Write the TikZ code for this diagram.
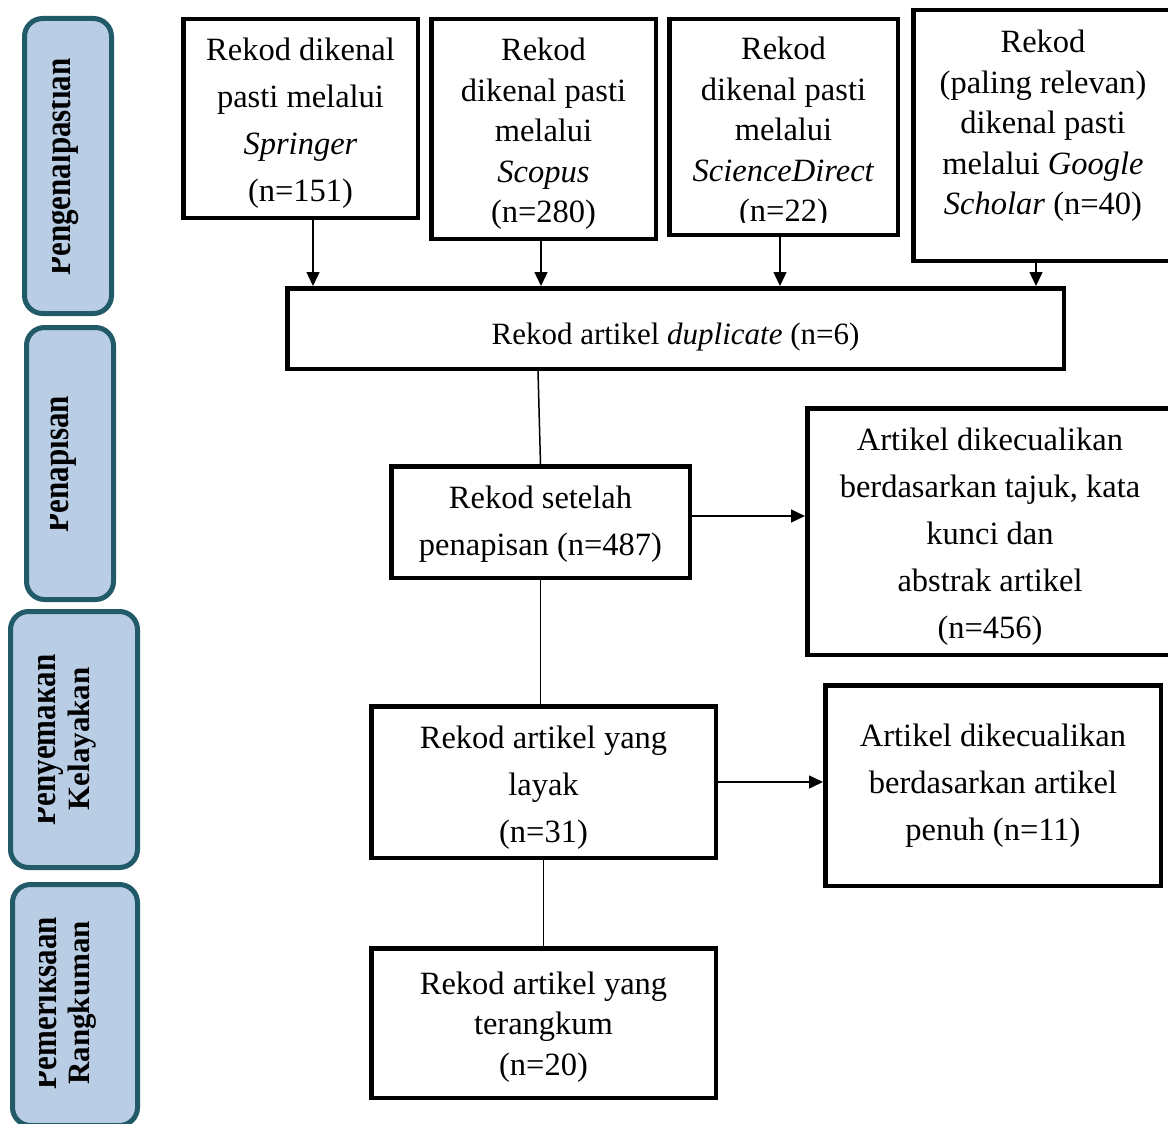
\documentclass[tikz,border=0pt]{standalone}
\usepackage{fontspec}
\setmainfont{Liberation Serif}
\usetikzlibrary{arrows.meta,calc}
\definecolor{pfill}{RGB}{185,205,229}
\definecolor{pdraw}{RGB}{33,90,104}
\newcommand{\stretchtxt}[1]{\scalebox{1}[1.2]{#1}}
\begin{document}
\begin{tikzpicture}[x=1pt,y=-1pt,
  box/.style={draw=black, line width=4.5pt, inner sep=0pt},
  txt/.style={align=center, inner sep=0pt, font=\fontsize{32.5}{47}\selectfont},
  tight/.style={font=\fontsize{32.5}{40.5}\selectfont},
  arr/.style={line width=1.5pt, -{Triangle[length=14pt,width=13pt]}},
  ln/.style={line width=1.5pt},
  panel/.style={draw=pdraw, fill=pfill, line width=5pt, rounded corners=18pt, inner sep=0pt},
  ptext/.style={rotate=90, font=\fontsize{31}{33}\selectfont\bfseries, anchor=base, inner sep=0pt}
]
\useasboundingbox (0,0) rectangle (1168,1124);

% ---- left stage panels ----
\node[panel, minimum width=87, minimum height=295] (p1) at (68,166) {};
\begin{scope}
  \clip (52,20) rectangle (112,312);
  \node[ptext] (t1) at (70,167) {\stretchtxt{Pengenalpastian}};
\end{scope}

\node[panel, minimum width=87, minimum height=272] (p2) at (70,463.5) {};
\begin{scope}
  \clip (50.5,328) rectangle (114,600);
  \node[ptext] (t2) at (68,464) {\stretchtxt{Penapisan}};
\end{scope}

\node[panel, minimum width=127, minimum height=256] (p3) at (74,739.5) {};
\begin{scope}
  \clip (38.5,612) rectangle (138,868);
  \node[ptext] (t3a) at (55,740) {\stretchtxt{Penyemakan}};
  \node[ptext] (t3b) at (89,739) {Kelayakan};
\end{scope}

\node[panel, minimum width=125, minimum height=241] (p4) at (75,1005) {};
\begin{scope}
  \clip (39.5,885) rectangle (138,1124);
  \node[ptext] (t4a) at (56,1003) {\stretchtxt{Pemeriksaan}};
  \node[ptext] (t4b) at (89,1003) {Rangkuman};
\end{scope}

% ---- identification boxes ----
\node[box, minimum width=234.5, minimum height=198.5] (spr) at (300.5,118.5) {};
\node[txt] (sprt) at ([yshift=-5pt]spr.center) {Rekod dikenal\\pasti melalui\\\textit{Springer}\\(n=151)};

\node[box, minimum width=224.5, minimum height=219.5] (sco) at (543.5,129) {};
\node[txt, tight] (scot) at ([yshift=-5pt]sco.center) {Rekod\\dikenal pasti\\melalui\\\textit{Scopus}\\(n=280)};

\node[box, minimum width=228.5, minimum height=215.5] (sd) at (783.5,127) {};
\begin{scope}
  \clip (667,17) rectangle (900,222);
  \node[txt, tight] (sdt) at (783.5,133) {Rekod\\dikenal pasti\\melalui\\\textit{ScienceDirect}\\(n=22)};
\end{scope}

\node[box, minimum width=259.5, minimum height=250.5] (gs) at (1043,135.5) {};
\node[txt, tight] (gst) at (1043,126) {Rekod\\(paling relevan)\\dikenal pasti\\melalui \textit{Google}\\\textit{Scholar} (n=40)};

% ---- duplicate ----
\node[box, minimum width=776.5, minimum height=80.5] (dup) at (675.5,328.5) {};
\node[txt, font=\fontsize{31}{40}\selectfont] (dupt) at ([yshift=-9pt]dup.center) {Rekod artikel \textit{duplicate} (n=6)};

% ---- screening ----
\node[box, minimum width=298.5, minimum height=111.5] (set) at (540.5,522) {};
\node[txt] (sett) at ([yshift=-2pt]set.center) {Rekod setelah\\penapisan (n=487)};

\node[box, minimum width=365.5, minimum height=246.5] (ex1) at (990,531.5) {};
\node[txt] (ex1t) at ([yshift=-5pt]ex1.center) {Artikel dikecualikan\\berdasarkan tajuk, kata\\kunci dan\\abstrak artikel\\(n=456)};

% ---- eligibility ----
\node[box, minimum width=344.5, minimum height=151.5] (lay) at (543.5,782) {};
\node[txt] (layt) at ([yshift=-6pt]lay.center) {Rekod artikel yang\\layak\\(n=31)};

\node[box, minimum width=335.5, minimum height=200.5] (ex2) at (993,785.5) {};
\node[txt] (ex2t) at (ex2.center) {Artikel dikecualikan\\berdasarkan artikel\\penuh (n=11)};

% ---- included ----
\node[box, minimum width=344.5, minimum height=149.5] (ter) at (543.5,1023) {};
\node[txt, tight] (tert) at ([yshift=-4pt]ter.center) {Rekod artikel yang\\terangkum\\(n=20)};

% ---- connectors ----
\draw[arr] ([xshift=12.5pt]spr.south) -- ([xshift=12.5pt]spr.south |- dup.north);
\draw[arr] ([xshift=-2.5pt]sco.south) -- ([xshift=-2.5pt]sco.south |- dup.north);
\draw[arr] ([xshift=-3.5pt]sd.south) -- ([xshift=-3.5pt]sd.south |- dup.north);
\draw[arr] ([xshift=-7pt]gs.south) -- ([xshift=-7pt]gs.south |- dup.north);
\draw[ln] ([xshift=-137.5pt]dup.south) -- (set.north);
\draw[arr] ([yshift=6pt]set.east) -- ([yshift=6pt]set.east -| ex1.west);
\draw[ln] (set.south) -- (set.south |- lay.north);
\draw[arr] (lay.east) -- (lay.east -| ex2.west);
\draw[ln] (lay.south) -- (ter.north);
\end{tikzpicture}
\end{document}
